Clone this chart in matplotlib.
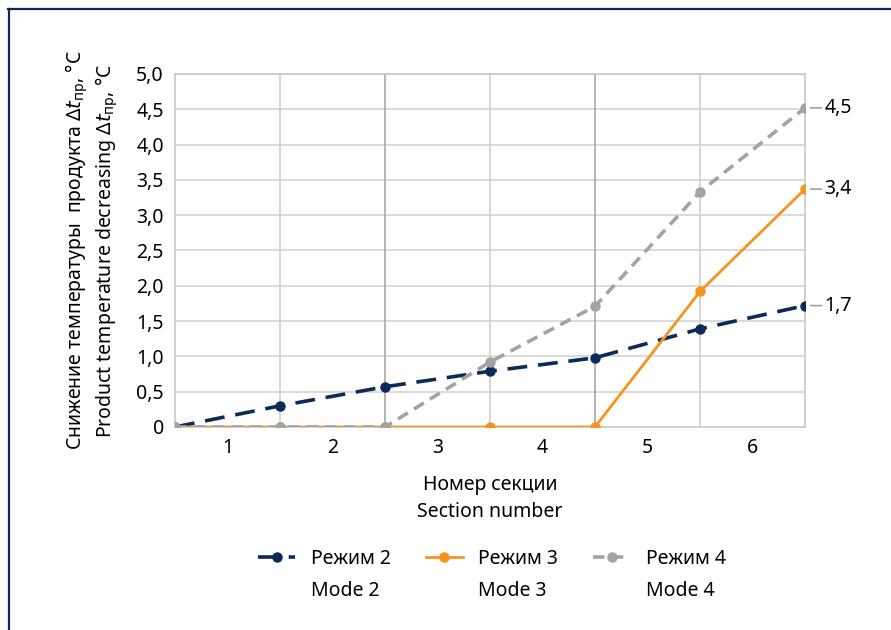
import numpy as np
import matplotlib.pyplot as plt
from matplotlib.lines import Line2D

plt.rcParams['font.family'] = ['Noto Sans', 'DejaVu Sans']
plt.rcParams['mathtext.fontset'] = 'dejavusans'

sections = [1, 2, 3, 4, 5, 6]
bounds = [0, 1, 2, 3, 4, 5, 6]  # points sit on section boundaries
mode2 = [0, 0.30, 0.57, 0.79, 0.98, 1.39, 1.72]
mode3 = [0, 0, 0, 0, 0, 1.92, 3.37]
mode4 = [0, 0, 0, 0.92, 1.71, 3.33, 4.52]
names_ru = ['Режим 2', 'Режим 3', 'Режим 4']
names_en = ['Mode 2', 'Mode 3', 'Mode 4']

NAVY = '#0b2a55'
ORANGE = '#f7931e'
GRAY = '#a3a3a3'
FS = 14

fig = plt.figure(figsize=(8.91, 6.3), dpi=100)
ax = fig.add_axes([175/891, 1-427/630, 630/891, 353/630])

# grid
for y in np.arange(0.5, 5.01, 0.5):
    ax.axhline(y, color='#d4d4d4', lw=1.2, zorder=0)
for x in [1, 3, 5]:
    ax.axvline(x, color='#d0d0d0', lw=1.2, zorder=0)
for x in [2, 4]:
    ax.axvline(x, color='#a8a8a8', lw=1.2, zorder=0)

l2, = ax.plot(bounds, mode2, color=NAVY, lw=2.6, ls=(0, (5.5, 3.0)), marker='o', ms=6.5,
              zorder=3)
l3, = ax.plot(bounds, mode3, color=ORANGE, lw=2.0, marker='o', ms=6.5, zorder=4)
l4, = ax.plot(bounds, mode4, color=GRAY, lw=2.6, ls=(0, (3.2, 2.0)), marker='o', ms=6.5,
              zorder=5)

# end-of-line value labels
for series in (mode2, mode3, mode4):
    v = series[-1]
    ax.annotate(f'{v:.1f}'.replace('.', ','), xy=(bounds[-1], v), xytext=(14, 0),
                textcoords='offset points', va='center', ha='left', fontsize=FS,
                arrowprops=dict(arrowstyle='-', color='#a0a0a0', lw=1.2,
                                shrinkA=0, shrinkB=4),
                annotation_clip=False)

ax.set_xlim(0, 6)
ax.set_ylim(0, 5)
ax.set_xticks([s - 0.5 for s in sections])
ax.set_xticklabels([str(s) for s in sections], fontsize=FS)
yt = np.arange(0, 5.01, 0.5)
ax.set_yticks(yt)
ax.set_yticklabels(['0'] + [f'{v:.1f}'.replace('.', ',') for v in yt[1:]], fontsize=FS)
ax.tick_params(length=0, pad=8)

for side in ['left', 'right', 'top', 'bottom']:
    ax.spines[side].set_color('#c8c8c8')
    ax.spines[side].set_linewidth(1.2)

ax.set_xlabel('Номер секции\nSection number', fontsize=FS, labelpad=12, linespacing=1.5)
ax.set_ylabel('Снижение температуры  продукта Δ$\\it{t}_{\\mathrm{пр}}$, °C\n'
              'Product temperature decreasing Δ$\\it{t}_{\\mathrm{пр}}$, °C',
              fontsize=FS, labelpad=12, linespacing=1.15)

# legend: line handle beside the Russian name, English name underneath
blank = Line2D([], [], alpha=0)
handles, texts = [], []
for h, ru, en in zip((l2, l3, l4), names_ru, names_en):
    handles += [h, blank]
    texts += [ru, en]
fig.legend(handles, texts, ncol=3, loc='center', bbox_to_anchor=(492/891, 1-575/630),
           frameon=False, fontsize=FS, handlelength=1.9, columnspacing=1.8,
           handletextpad=0.8, labelspacing=0.6)

# frame lines on top and left
fig.add_artist(Line2D([8/891, 1], [1-9/630, 1-9/630], color=NAVY, lw=1.6,
                      transform=fig.transFigure))
fig.add_artist(Line2D([9/891, 9/891], [0, 1-9/630], color=NAVY, lw=1.6,
                      transform=fig.transFigure))

fig.savefig('out.png', dpi=100)
